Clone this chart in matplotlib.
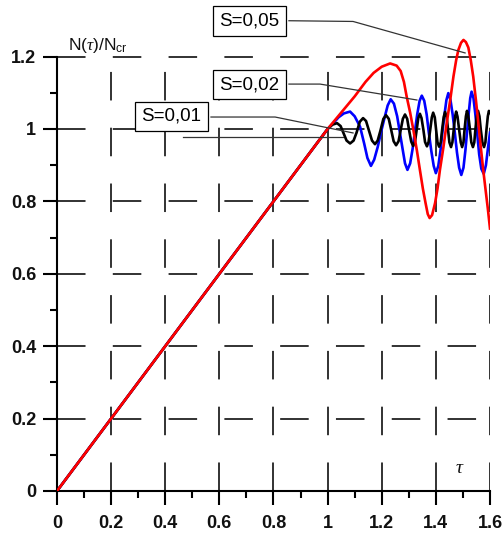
import matplotlib
matplotlib.use("Agg")
import matplotlib.pyplot as plt
from matplotlib.ticker import FixedLocator

plt.rcParams['font.family'] = ['Liberation Sans', 'DejaVu Sans']
plt.rcParams['mathtext.fontset'] = 'custom'
plt.rcParams['mathtext.rm'] = 'Liberation Sans'
plt.rcParams['mathtext.it'] = 'Liberation Serif:italic'

# ---------------- data ----------------
x_ticks = [0, 0.2, 0.4, 0.6, 0.8, 1.0, 1.2, 1.4, 1.6]
x_tick_labels = ["0", "0.2", "0.4", "0.6", "0.8", "1", "1.2", "1.4", "1.6"]
y_ticks = [0, 0.2, 0.4, 0.6, 0.8, 1.0, 1.2]
y_tick_labels = ["0", "0.2", "0.4", "0.6", "0.8", "1", "1.2"]
x_minor = [0.1, 0.3, 0.5, 0.7, 0.9, 1.1, 1.3, 1.5]
y_minor = [0.1, 0.3, 0.5, 0.7, 0.9, 1.1]

# S = 0,05 (red)
tau_s05 = [0.0, 0.5, 1.0, 1.05, 1.10, 1.14, 1.17, 1.20, 1.231, 1.255, 1.27, 1.282,
           1.292, 1.305, 1.317, 1.33, 1.341, 1.352, 1.362, 1.37, 1.377, 1.386,
           1.397, 1.406, 1.415, 1.428, 1.44, 1.453, 1.465, 1.475, 1.483, 1.493,
           1.502, 1.511, 1.52, 1.529, 1.538, 1.548, 1.557, 1.566, 1.575, 1.584,
           1.592, 1.6]
n_s05 = [0.0, 0.5, 1.0, 1.045, 1.09, 1.13, 1.155, 1.172, 1.181, 1.175, 1.16, 1.13,
         1.09, 1.045, 0.997, 0.94, 0.887, 0.835, 0.795, 0.765, 0.754, 0.762,
         0.795, 0.835, 0.887, 0.95, 1.016, 1.08, 1.145, 1.19, 1.218, 1.238,
         1.246, 1.24, 1.225, 1.19, 1.145, 1.08, 1.016, 0.95, 0.887, 0.83,
         0.78, 0.725]

# S = 0,02 (blue)
tau_s02 = [0.0, 0.5, 1.0, 1.02, 1.04, 1.06, 1.083, 1.10, 1.12, 1.135, 1.147, 1.16,
           1.172, 1.185, 1.197, 1.21, 1.222, 1.233, 1.245, 1.257, 1.267, 1.277,
           1.286, 1.295, 1.305, 1.314, 1.322, 1.331, 1.34, 1.348, 1.357, 1.366,
           1.374, 1.383, 1.392, 1.40, 1.409, 1.417, 1.424, 1.432, 1.439, 1.446,
           1.454, 1.462, 1.47, 1.478, 1.486, 1.494, 1.502, 1.509, 1.515, 1.521,
           1.527, 1.532, 1.539, 1.546, 1.553, 1.56, 1.568, 1.577, 1.585, 1.593, 1.6]
n_s02 = [0.0, 0.5, 1.0, 1.015, 1.032, 1.043, 1.048, 1.035, 1.006, 0.96, 0.92, 0.898,
         0.915, 0.95, 0.99, 1.03, 1.065, 1.082, 1.07, 1.035, 0.99, 0.945,
         0.905, 0.887, 0.905, 0.945, 0.99, 1.04, 1.078, 1.092, 1.078, 1.04,
         0.99, 0.94, 0.898, 0.878, 0.898, 0.94, 0.99, 1.04, 1.08, 1.099,
         1.08, 1.04, 0.99, 0.935, 0.893, 0.873, 0.893, 0.94, 0.99, 1.04,
         1.085, 1.103, 1.085, 1.04, 0.985, 0.93, 0.89, 0.876, 0.90, 0.95, 0.99]

# S = 0,01 (black)
tau_s01 = [0.0, 0.5, 1.0, 1.018, 1.035, 1.048, 1.059, 1.07, 1.083, 1.096, 1.107,
           1.119, 1.131, 1.142, 1.153, 1.164, 1.175, 1.185, 1.195, 1.206, 1.216,
           1.226, 1.235, 1.244, 1.253, 1.262, 1.27, 1.278, 1.286, 1.294, 1.301,
           1.309, 1.316, 1.323, 1.329, 1.335, 1.341, 1.347, 1.354, 1.36, 1.367,
           1.373, 1.379, 1.385, 1.39, 1.396, 1.401, 1.406, 1.412, 1.418, 1.423,
           1.429, 1.434, 1.44, 1.445, 1.45, 1.456, 1.461, 1.466, 1.471, 1.475,
           1.48, 1.486, 1.492, 1.497, 1.502, 1.506, 1.511, 1.515, 1.52, 1.526,
           1.531, 1.537, 1.542, 1.546, 1.551, 1.556, 1.561, 1.566, 1.572, 1.578,
           1.583, 1.587, 1.592, 1.596, 1.6]
n_s01 = [0.0, 0.5, 1.0, 1.012, 1.016, 1.008, 0.988, 0.968, 0.96, 0.968, 0.99,
         1.02, 1.03, 1.022, 0.995, 0.968, 0.958, 0.968, 0.995, 1.028, 1.038,
         1.028, 0.997, 0.966, 0.955, 0.966, 0.997, 1.028, 1.04, 1.028, 0.997,
         0.965, 0.953, 0.965, 0.997, 1.03, 1.042, 1.03, 0.997, 0.964, 0.952,
         0.964, 0.997, 1.032, 1.045, 1.032, 0.997, 0.963, 0.951, 0.963, 0.997,
         1.033, 1.047, 1.033, 0.998, 0.963, 0.95, 0.963, 0.998, 1.034, 1.048,
         1.034, 0.998, 0.963, 0.95, 0.963, 0.998, 1.035, 1.05, 1.035, 0.998,
         0.963, 0.95, 0.963, 0.998, 1.035, 1.05, 1.035, 0.998, 0.963, 0.95,
         0.963, 0.998, 1.035, 1.05, 1.045]

labels = ["S=0,05", "S=0,02", "S=0,01"]

# ---------------- figure ----------------
fig = plt.figure(figsize=(5.04, 5.36), dpi=100)
ax = fig.add_axes([0.1131, 0.0840, 0.8591, 0.878])
ax.set_xlim(0, 1.6)
ax.set_ylim(0, 1.3)

for s in ['top', 'right']:
    ax.spines[s].set_visible(False)
for s in ['left', 'bottom']:
    ax.spines[s].set_linewidth(1.5)
    ax.spines[s].set_color('black')
ax.spines['left'].set_bounds(0, 1.2)

# dashed grid
dash = (0, (15.8, 15.1))
ax.hlines(y_ticks[1:], 0, 1.6, colors='#222222', linewidth=1.3, linestyles=dash, zorder=1)
ax.vlines(x_ticks[1:], 0, 1.2, colors='#222222', linewidth=1.3, linestyles=dash, zorder=1)

ax.xaxis.set_major_locator(FixedLocator(x_ticks))
ax.yaxis.set_major_locator(FixedLocator(y_ticks))
ax.set_xticklabels(x_tick_labels)
ax.set_yticklabels(y_tick_labels)
ax.xaxis.set_minor_locator(FixedLocator(x_minor))
ax.yaxis.set_minor_locator(FixedLocator(y_minor))
ax.tick_params(which='major', direction='out', length=10, width=1.5, color='black',
               labelsize=13)
ax.tick_params(axis='x', which='major', pad=7)
ax.tick_params(axis='y', which='major', pad=5)
ax.tick_params(which='minor', direction='out', length=5, width=1.5, color='black')
for lab in ax.get_xticklabels() + ax.get_yticklabels():
    lab.set_fontweight('bold')
    lab.set_color('#111111')

# curves
ax.plot(tau_s02, n_s02, color='#0000ff', linewidth=1.9, zorder=3)
ax.plot(tau_s01, n_s01, color='#000000', linewidth=1.9, zorder=4)
ax.plot(tau_s05, n_s05, color='#ff0000', linewidth=1.9, zorder=5)

# axis titles
ax.text(0.04, 1.218, r'N($\tau$)/N$_{\rm cr}$', fontsize=12.5, ha='left',
        va='baseline', color='#111111')
ax.text(1.49, 0.05, r'$\tau$', fontsize=14, ha='center', va='baseline', color='#111111')

# labelled boxes with leader lines
box = dict(boxstyle='square,pad=0.33', facecolor='white', edgecolor='black', linewidth=0.9)
ax.text(0.711, 1.298, labels[0], fontsize=13.5, ha='center', va='center', bbox=box, zorder=7)
ax.text(0.711, 1.122, labels[1], fontsize=13.5, ha='center', va='center', bbox=box, zorder=7)
ax.text(0.423, 1.035, labels[2], fontsize=13.5, ha='center', va='center', bbox=box, zorder=7)

lead = dict(color='#333333', linewidth=0.9, zorder=6, clip_on=False)
ax.plot([0.857, 1.094, 1.508], [1.299, 1.297, 1.210], **lead)
ax.plot([0.857, 0.972, 1.330], [1.124, 1.124, 1.080], **lead)
ax.plot([0.569, 0.806, 1.094], [1.033, 1.033, 0.989], **lead)
ax.plot([0.466, 1.057], [0.978, 0.978], **lead)

fig.savefig('out.png', dpi=100)
